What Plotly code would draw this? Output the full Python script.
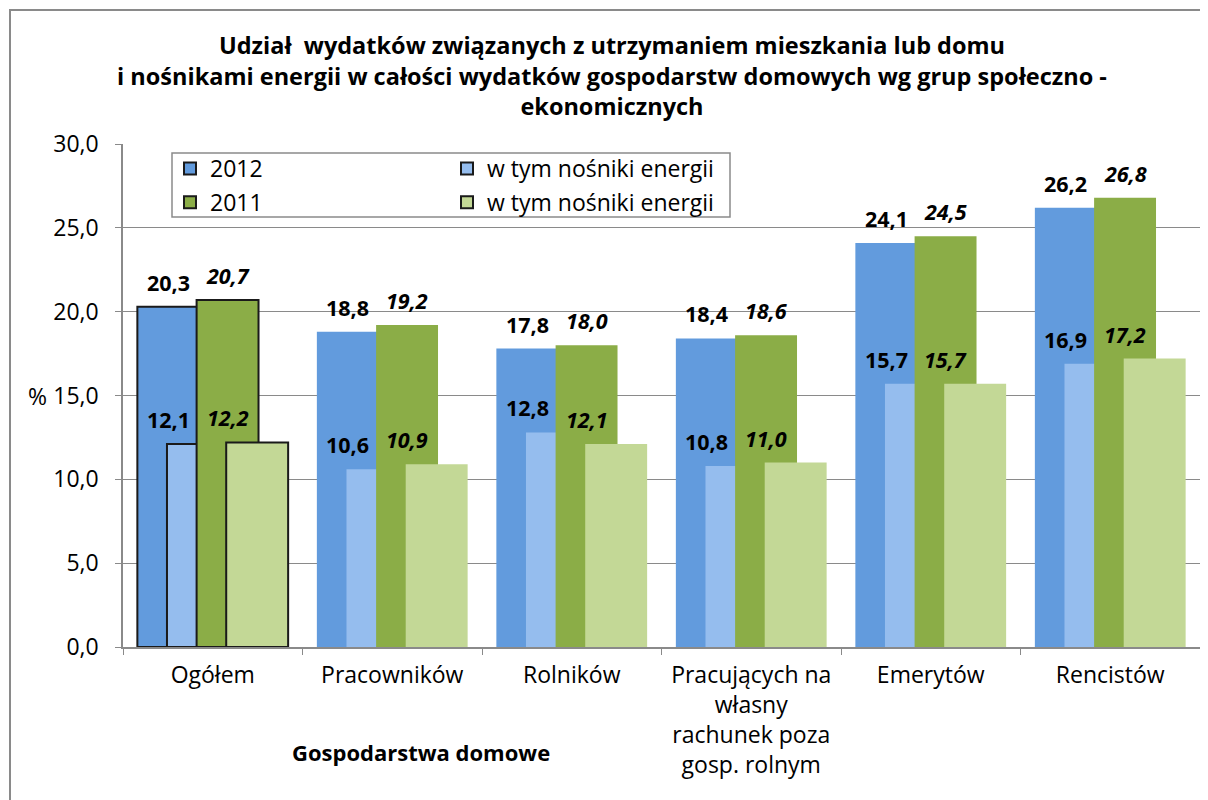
import plotly.graph_objects as go

categories = ["Ogółem", "Pracowników", "Rolników",
              "Pracujących na<br>własny<br>rachunek poza<br>gosp. rolnym",
              "Emerytów", "Rencistów"]
val_2012 = [20.3, 18.8, 17.8, 18.4, 24.1, 26.2]
energy_2012 = [12.1, 10.6, 12.8, 10.8, 15.7, 16.9]
val_2011 = [20.7, 19.2, 18.0, 18.6, 24.5, 26.8]
energy_2011 = [12.2, 10.9, 12.1, 11.0, 15.7, 17.2]
series_names = ["2012", "w tym nośniki energii", "2011", "w tym nośniki energii"]
y_ticks = [0, 5, 10, 15, 20, 25, 30]

# page body has an 8px default margin, so work in screen pixels and convert
OFF = 8
W, H = 1200, 792
L = 123 - OFF
T = 144 - OFF
R = W - (1200 - OFF)
B = H - (647 - OFF)
PW, PH = W - L - R, H - T - B


def px(sx):
    return (sx - OFF - L) / PW


def py(sy):
    return (H - B - (sy - OFF)) / PH


FONT = "Open Sans"
colors = ["#629BDD", "#95BDEE", "#8BAD47", "#C3D896"]
offsets = [-0.42, -0.255, -0.09, 0.075]
bw = 0.345
values = [val_2012, energy_2012, val_2011, energy_2011]
legends = ["legend", "legend2", "legend", "legend2"]

fig = go.Figure()
n = len(categories)
for k in range(4):
    line_w = [2 if i == 0 else 0 for i in range(n)]
    line_c = ["#1a1a1a" if i == 0 else "rgba(0,0,0,0)" for i in range(n)]
    fig.add_trace(go.Bar(
        x=categories, y=values[k], name=series_names[k],
        marker=dict(color=colors[k], line=dict(width=line_w, color=line_c)),
        offset=offsets[k], width=bw, legend=legends[k],
        legendgroup=f"g{k}", hoverinfo="y",
    ))


def fmt(v):
    return f"{v:.1f}".replace(".", ",")


annotations = []
dark_c = offsets[0] + bw / 2
green_c = offsets[2] + bw / 2
label_x = [dark_c, dark_c, green_c, green_c]
for k in range(4):
    italic = k >= 2
    for i, v in enumerate(values[k]):
        annotations.append(dict(
            x=i + label_x[k], y=v, xref="x", yref="y", text=fmt(v),
            showarrow=False, xanchor="center", yanchor="bottom", yshift=8,
            font=dict(family=FONT, size=21.5, color="black", weight="bold",
                      style="italic" if italic else "normal"),
        ))

annotations.append(dict(x=px(421), y=py(752), xref="paper", yref="paper",
                        xanchor="center", yanchor="middle",
                        text="Gospodarstwa domowe", showarrow=False,
                        font=dict(family=FONT, size=22, color="black", weight="bold")))
annotations.append(dict(x=px(37), y=15, xref="paper", yref="y", text="%",
                        xanchor="center", yanchor="middle",
                        showarrow=False, font=dict(family=FONT, size=23, color="black")))

fig.update_layout(
    width=W, height=H,
    margin=dict(l=L, r=R, t=T, b=B),
    paper_bgcolor="white", plot_bgcolor="white",
    barmode="overlay",
    font=dict(family=FONT, size=23, color="black"),
    title=dict(
        text="Udział  wydatków związanych z utrzymaniem mieszkania lub domu<br>"
             "i nośnikami energii w całości wydatków gospodarstw domowych wg grup społeczno -<br>"
             "ekonomicznych",
        x=(612 - OFF) / W, xanchor="center", xref="container",
        y=1 - (54 - OFF) / H, yanchor="middle", yref="container",
        font=dict(family=FONT, size=23.5, color="black", weight="bold"),
    ),
    xaxis=dict(
        type="category", range=[-0.5, n - 0.5],
        tickson="boundaries", ticks="outside", ticklen=6, tickcolor="#8a8a8a",
        showline=True, linecolor="#8a8a8a", linewidth=1.5, showgrid=False,
        tickfont=dict(family=FONT, size=23, color="black"),
        ticklabelstandoff=7,
    ),
    yaxis=dict(
        range=[0, 30], tickvals=y_ticks,
        ticktext=[fmt(v) for v in y_ticks],
        ticks="outside", ticklen=6, tickcolor="#8a8a8a",
        showline=True, linecolor="#8a8a8a", linewidth=1.5,
        showgrid=True, gridcolor="#8a8a8a", gridwidth=1, zeroline=False,
        tickfont=dict(family=FONT, size=23, color="black"),
        ticklabelstandoff=12,
    ),
    legend=dict(x=px(170), y=py(147), xanchor="left", yanchor="top",
                bgcolor="rgba(0,0,0,0)", borderwidth=0, tracegroupgap=1,
                traceorder="grouped", font=dict(family=FONT, size=23, color="black")),
    legend2=dict(x=px(447), y=py(147), xanchor="left", yanchor="top",
                 bgcolor="rgba(0,0,0,0)", borderwidth=0, tracegroupgap=1,
                 traceorder="grouped", font=dict(family=FONT, size=23, color="black")),
    annotations=annotations,
    shapes=[
        dict(type="rect", xref="paper", yref="paper",
             x0=px(172), x1=px(730), y0=py(217), y1=py(153),
             line=dict(color="#8a8a8a", width=1.5), fillcolor="rgba(0,0,0,0)"),
        dict(type="rect", xref="paper", yref="paper",
             x0=px(10), x1=px(1230), y0=py(830), y1=py(10),
             line=dict(color="#8a8a8a", width=2), fillcolor="rgba(0,0,0,0)"),
    ],
    showlegend=True,
)

fig.write_html("out.html")
